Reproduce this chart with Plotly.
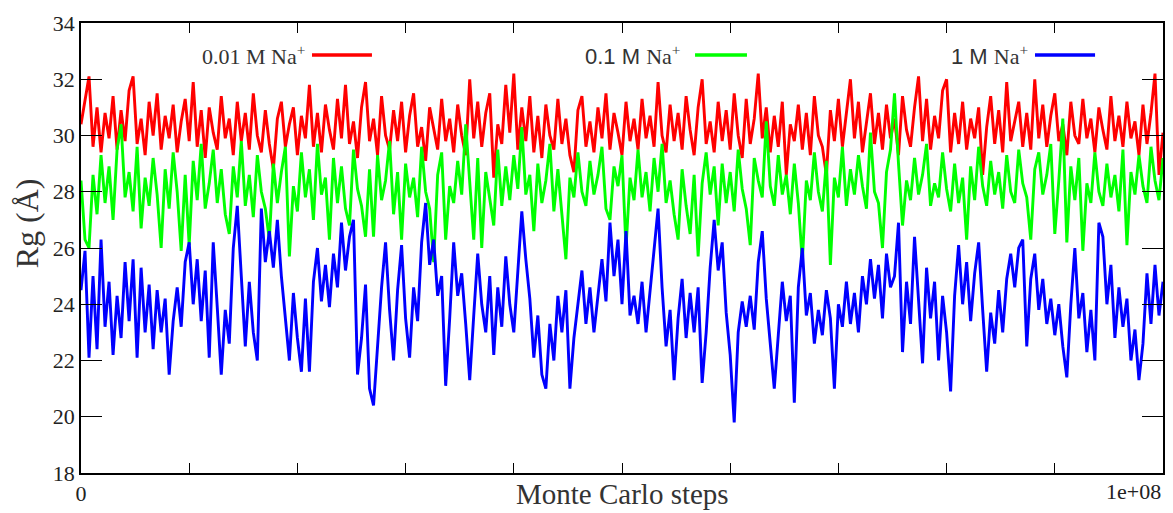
import numpy as np
import plotly.graph_objects as go

rg_001 = [30.4, 31.3, 32.1, 29.6, 31.0, 29.4, 30.8, 29.9, 31.4, 29.5,
          30.9, 29.8, 31.6, 32.1, 29.7, 30.6, 29.3, 31.2, 30.0, 31.5,
          29.5, 30.7, 29.9, 31.1, 29.4, 30.5, 31.3, 29.8, 31.9, 29.6,
          30.9, 29.2, 31.0, 30.1, 29.5, 31.4, 29.9, 30.6, 29.3, 31.2,
          29.8, 30.8, 29.5, 31.5, 30.0, 29.4, 30.9, 29.7, 28.8, 30.6,
          31.2, 29.6, 30.4, 31.0, 29.3, 30.7, 29.9, 31.8, 29.6, 30.8,
          29.4, 31.1, 30.2, 29.5, 31.3, 29.9, 31.8, 29.7, 30.5, 29.2,
          31.0, 31.9, 29.8, 30.6, 29.3, 31.4, 30.0, 29.5, 30.9, 29.8,
          31.2, 29.4, 30.7, 31.5, 29.6, 30.3, 29.1, 31.0, 30.2, 29.5,
          31.3, 29.8, 30.6, 29.4, 31.1, 30.0, 29.3, 32.0, 29.9, 31.2,
          29.6, 30.8, 31.5, 28.5, 30.4, 29.7, 31.8, 30.1, 32.2, 29.5,
          31.0, 29.8, 31.4, 29.4, 30.7, 29.2, 31.1, 30.0, 29.5, 31.3,
          29.7, 30.6, 29.3, 28.7, 30.9, 31.4, 29.6, 30.5, 29.4, 31.0,
          29.9, 31.5, 29.5, 30.8, 30.1, 29.3, 31.2, 29.8, 30.6, 29.5,
          31.3, 29.9, 30.7, 29.6, 31.9, 30.0, 29.4, 31.1, 29.8, 30.8,
          29.5, 31.4, 30.2, 29.3, 31.0, 32.0, 29.7, 30.5, 29.4, 31.2,
          29.8, 30.9, 29.5, 31.5, 30.0, 29.2, 31.3, 29.7, 30.6, 32.2,
          29.9, 31.0, 29.4, 30.7, 29.6, 31.2, 28.6, 30.4, 29.8, 31.1,
          29.5, 30.8, 29.3, 31.4, 30.0, 29.6, 28.6, 30.9, 29.8, 31.3,
          29.6, 30.7, 32.0, 29.9, 31.2, 29.4, 30.5, 31.5, 29.7, 30.8,
          29.5, 31.1, 29.9, 30.6, 29.3, 31.4, 30.2, 29.6, 31.0, 32.1,
          29.8, 31.3, 29.5, 30.7, 29.9, 31.6, 32.0, 29.4, 30.8, 29.7,
          31.2, 29.5, 30.6, 29.9, 31.0, 28.6, 30.3, 31.4, 29.7, 30.9,
          29.4, 31.9, 29.8, 30.5, 31.2, 29.6, 30.8, 29.5, 32.0, 29.9,
          31.1, 29.6, 30.7, 31.5, 29.8, 30.4, 29.3, 31.2, 30.0, 29.7,
          31.3, 29.9, 30.6, 29.4, 31.0, 30.2, 29.5, 31.4, 29.8, 30.7,
          29.6, 31.2, 29.9, 30.5, 29.3, 31.1, 29.7, 30.8, 32.2, 28.6,
          30.1]

rg_01 = [28.4, 26.3, 26.0, 28.6, 27.2, 29.3, 27.6, 28.9, 27.0, 29.5,
         30.4, 27.8, 28.7, 27.3, 29.6, 26.7, 28.5, 27.5, 29.2, 27.9,
         26.0, 28.8, 27.4, 29.4, 28.0, 25.9, 28.6, 26.1, 29.1, 27.7,
         29.7, 27.4, 28.3, 29.5, 27.6, 28.8, 27.2, 26.5, 28.9, 27.8,
         29.8, 27.5, 28.6, 27.1, 29.3, 28.0, 27.4, 26.3, 29.0, 27.6,
         28.7, 29.6, 25.7, 28.2, 27.3, 29.4, 27.8, 28.8, 27.0, 29.7,
         27.9, 28.5, 26.3, 29.2, 27.6, 28.9, 27.4, 26.8, 29.5, 28.1,
         27.5, 26.4, 28.8, 26.4, 29.3, 27.7, 28.4, 29.8, 27.2, 28.7,
         26.3, 29.0, 27.8, 28.5, 27.1, 29.6, 28.0, 27.4, 25.5, 28.6,
         29.4, 26.3, 28.2, 27.6, 29.1, 27.9, 30.4, 28.3, 26.3, 29.2,
         26.0, 28.7, 27.8, 26.8, 29.5, 27.5, 28.9, 27.7, 29.3, 28.1,
         30.3, 27.9, 28.6, 26.6, 29.0, 27.6, 28.4, 29.7, 27.3, 28.8,
         27.2, 25.6, 28.5, 27.8, 29.4, 28.0, 27.5, 29.1, 27.9, 28.6,
         29.6, 27.4, 27.0, 28.9, 28.2, 29.3, 26.0, 28.5, 27.7, 29.5,
         27.8, 28.7, 27.3, 29.2, 28.0, 29.7, 27.6, 28.4, 27.2, 26.3,
         28.8, 27.5, 26.5, 28.6, 25.7, 28.3, 29.4, 27.9, 28.9, 26.8,
         29.0, 27.6, 28.7, 27.3, 29.5, 28.1, 27.4, 26.1, 29.2, 28.4,
         27.8, 30.5, 28.2, 27.5, 29.3, 27.9, 28.6, 27.2, 29.0, 27.6,
         25.5, 28.4, 27.7, 29.4, 28.0, 27.3, 29.1, 25.4, 28.5, 27.8,
         29.6, 27.5, 28.8, 27.9, 29.3, 28.2, 27.4, 30.1, 28.0, 27.6,
         26.0, 28.7, 29.5, 31.5, 29.0, 26.8, 28.4, 27.7, 29.2, 27.9,
         28.6, 29.7, 27.5, 28.3, 27.8, 29.4, 28.1, 27.3, 29.0, 27.6,
         28.5, 26.3, 28.9, 27.7, 29.6, 28.2, 27.5, 29.1, 27.9, 28.7,
         27.4, 29.3, 28.0, 27.6, 29.5, 28.3, 27.8, 26.3, 28.8, 29.4,
         27.9, 28.6, 29.7, 26.5, 28.4, 30.6, 26.2, 28.9, 27.7, 29.2,
         25.9, 28.3, 27.6, 29.4, 28.0, 27.5, 29.0, 27.8, 28.6, 27.3,
         29.5, 26.1, 28.7, 27.9, 29.3, 28.2, 27.6, 29.6, 28.4, 27.7,
         29.2]

rg_1 = [24.5, 25.9, 22.1, 25.0, 22.4, 26.3, 23.2, 24.8, 22.2, 24.3,
        22.8, 25.5, 23.4, 25.6, 22.1, 25.3, 23.0, 24.7, 22.4, 24.5,
        23.0, 24.2, 21.5, 23.4, 24.6, 23.2, 25.5, 26.2, 24.0, 25.6,
        23.4, 25.2, 22.1, 26.2, 23.9, 21.5, 23.8, 22.6, 26.0, 27.5,
        25.0, 22.5, 24.8, 23.0, 22.0, 27.4, 25.5, 26.6, 25.3, 27.0,
        25.0, 23.4, 22.0, 24.4, 22.8, 21.6, 24.2, 21.6, 24.8, 26.0,
        24.1, 25.4, 23.9, 25.8, 24.6, 26.9, 25.2, 26.4, 27.0, 21.5,
        22.8, 24.7, 21.0, 20.4, 22.6, 24.6, 26.2, 23.8, 22.0, 24.5,
        26.1, 23.5, 22.1, 24.6, 23.4, 26.2, 27.6, 25.4, 26.3, 24.3,
        25.0, 21.1, 23.5, 26.2, 24.3, 25.1, 23.3, 21.3, 23.6, 25.8,
        24.0, 23.0, 25.0, 22.2, 24.6, 23.2, 25.7, 24.0, 23.0, 25.1,
        27.3, 25.6, 24.2, 22.1, 23.6, 21.5, 21.0, 23.3, 22.0, 24.3,
        23.0, 24.5, 21.0, 22.8, 24.0, 25.2, 23.3, 24.6, 23.0, 24.2,
        25.6, 24.1, 26.9, 25.0, 26.3, 24.0, 26.6, 23.6, 24.3, 23.3,
        24.8, 23.0, 24.5, 25.8, 27.4, 24.6, 22.5, 23.8, 21.3, 23.5,
        24.9, 22.8, 24.4, 23.0, 24.6, 21.2, 23.0, 25.3, 27.0, 25.2,
        26.2, 23.7, 22.2, 19.8, 23.0, 24.1, 23.2, 24.3, 23.1, 25.5,
        26.6, 24.2, 22.5, 21.0, 22.9, 24.8, 23.4, 24.3, 20.5, 24.6,
        26.0, 23.6, 24.4, 22.6, 23.8, 22.9, 24.5, 23.5, 21.0, 24.0,
        23.2, 24.8, 23.3, 24.4, 23.0, 25.0, 24.0, 25.6, 24.2, 25.4,
        23.5, 25.8, 24.6, 25.0, 26.9, 22.3, 24.8, 23.3, 26.4, 24.0,
        21.9, 25.3, 23.5, 24.8, 22.0, 24.3, 23.0, 20.9, 24.3, 26.1,
        24.0, 25.5, 23.4, 25.1, 26.2, 23.8, 21.6, 23.7, 22.6, 24.5,
        23.0, 24.9, 25.8, 24.6, 26.0, 26.3, 22.5, 24.9, 25.8, 23.8,
        24.9, 23.3, 24.2, 22.9, 24.0, 22.5, 21.4, 24.0, 26.0, 23.5,
        24.4, 22.3, 23.8, 22.0, 26.9, 26.4, 24.0, 25.4, 22.8, 24.6,
        23.2, 24.2, 22.0, 23.1, 21.3, 22.6, 25.1, 23.3, 25.4, 23.6,
        24.8]

steps = np.linspace(0, 1e8, len(rg_1))

labels = ["0.01 M Na<sup>+</sup>", "0.1 M Na<sup>+</sup>", "1 M Na<sup>+</sup>"]
colors = ["#ff0000", "#00ff00", "#0000ff"]

fig = go.Figure()
for ys, name, c in zip([rg_001, rg_01, rg_1], labels, colors):
    fig.add_trace(go.Scatter(x=steps, y=ys, mode="lines", name=name,
                             line=dict(color=c, width=2.9), showlegend=False))

serif = "Liberation Serif, Times New Roman, serif"
sans = "Liberation Sans, Arial, sans-serif"

# gnuplot style key: text then a line sample on its right
key = [
    ('0.01 M Na<sup>+</sup>', 0.2089, 0.2135, 0.2689, serif),
    ('0.1 M <span style="font-family:Liberation Serif">Na<sup>+</sup></span>', 0.5555, 0.5675, 0.6155, sans),
    ('1 M <span style="font-family:Liberation Serif">Na<sup>+</sup></span>', 0.877, 0.8817, 0.9372, sans),
]
for (txt, tx, x0, x1, fnt), c in zip(key, colors):
    fig.add_annotation(x=tx, y=0.929, xref="paper", yref="paper", text=txt,
                       showarrow=False, xanchor="right", yanchor="middle",
                       font=dict(family=fnt, size=22, color="#333"))
    fig.add_shape(type="line", xref="paper", yref="paper", x0=x0, x1=x1,
                  y0=0.929, y1=0.929, line=dict(color=c, width=3.5))

fig.add_annotation(x=1e8, y=0, xref="x", yref="paper", text="1e+08",
                   showarrow=False, xanchor="right", yanchor="top", yshift=-4,
                   font=dict(family=serif, size=22, color="#222"))

# axis titles as annotations so the plot area stays put
fig.add_annotation(x=0.5, y=0, xref="paper", yref="paper", text="Monte Carlo steps",
                   showarrow=False, xanchor="center", yanchor="top", yshift=-3,
                   font=dict(family=serif, size=29, color="#333"))
fig.add_annotation(x=0, y=0.555, xref="paper", yref="paper", text="Rg (Å)",
                   showarrow=False, xanchor="right", yanchor="middle", xshift=-34,
                   textangle=-90, font=dict(family=serif, size=32, color="#333"))

fig.update_xaxes(range=[0, 1e8], tickvals=[i * 1e7 for i in range(11)],
                 ticktext=["0"] + [""] * 10, ticks="inside", ticklen=10,
                 tickcolor="black", showline=True, linecolor="black", linewidth=1.5,
                 mirror="ticks", showgrid=False, zeroline=False, automargin=False,
                 tickfont=dict(family=serif, size=22, color="#222"))
fig.update_yaxes(range=[18, 34], dtick=2, ticks="inside", ticklen=21,
                 tickcolor="black", showline=True, linecolor="black", linewidth=1.5,
                 mirror="ticks", showgrid=False, zeroline=False, automargin=False,
                 tickfont=dict(family=serif, size=22, color="#222"))

# the page body adds an 8px offset, so the figure is sized 8px smaller
fig.update_layout(width=1165, height=505, plot_bgcolor="white", paper_bgcolor="white",
                  margin=dict(l=73, r=10, t=15, b=40))

fig.write_html("out.html")
